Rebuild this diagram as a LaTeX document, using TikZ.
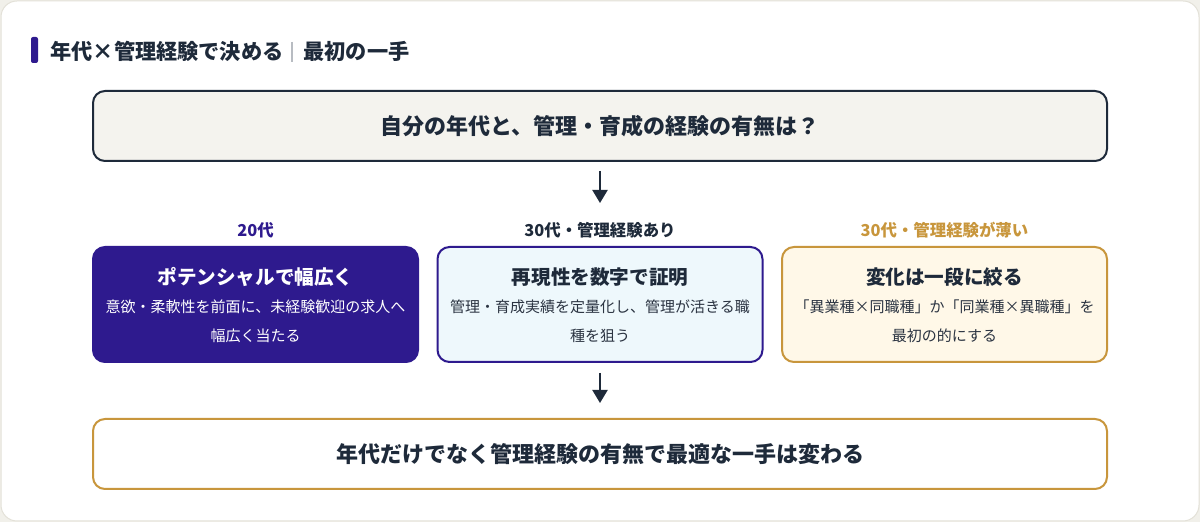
\documentclass[tikz,border=0pt]{standalone}
\usepackage{fontspec}
\setmainfont{Noto Sans CJK JP}
\usetikzlibrary{arrows.meta}
\definecolor{navy}{HTML}{1E2A3A}
\definecolor{purp}{HTML}{2E1A8E}
\definecolor{gold}{HTML}{C8963C}
\definecolor{topfill}{HTML}{F4F3EE}
\definecolor{bluefill}{HTML}{EEF8FC}
\definecolor{creamfill}{HTML}{FFF8E8}
\definecolor{pagebg}{HTML}{F1F0EA}
\definecolor{cardline}{HTML}{E3E1D8}
\definecolor{sepgray}{HTML}{B8BCC2}
\definecolor{bodytext}{HTML}{2B3442}
\begin{document}
\begin{tikzpicture}[x=0.5pt,y=-0.5pt,
  wide/.style={draw, line width=1pt, rounded corners=6pt, inner sep=0pt,
    minimum width=507pt, minimum height=35pt, text=navy,
    font=\fontsize{11pt}{13pt}\selectfont\bfseries},
  cbox/.style={draw, line width=1pt, rounded corners=6pt, inner sep=0pt,
    minimum width=162.5pt, minimum height=57.5pt},
  lbl/.style={inner sep=0pt, font=\fontsize{8.2pt}{10pt}\selectfont\bfseries},
  ctitle/.style={inner sep=0pt, font=\fontsize{9.8pt}{12pt}\selectfont\bfseries},
  cbody/.style={inner sep=0pt, align=center, font=\fontsize{7.5pt}{14.5pt}\selectfont},
  arr/.style={draw=navy, line width=1pt, -{Triangle[width=7.5pt,length=6.5pt]}},
  ttl/.style={inner sep=0pt, anchor=west, text=navy, font=\fontsize{10.6pt}{13pt}\selectfont\bfseries}
]
\useasboundingbox (0,0) rectangle (1200,522);
\fill[pagebg] (0,0) rectangle (1200,522);
\draw[cardline, fill=white, line width=0.5pt, rounded corners=8pt] (1,1) rectangle (1199,521);

% title
\fill[purp, rounded corners=1pt] (31,37) rectangle (38,63);
\node[ttl] (title1) at (50,51) {年代×管理経験で決める};
\draw[sepgray, line width=0.6pt] (292,42) -- (292,62);
\node[ttl] (title2) at (303,51) {最初の一手};

% top question
\node[wide, draw=navy, fill=topfill] (top) at (600,126) {自分の年代と、管理・育成の経験の有無は？};
\coordinate (a1e) at (600,203);
\draw[arr, shorten <=4.5pt] (top.south) -- (a1e);

% labels
\node[lbl, text=purp] (l1) at (255.5,230) {20代};
\node[lbl, text=navy] (l2) at (600,230) {30代・管理経験あり};
\node[lbl, text=gold] (l3) at (944.5,230) {30代・管理経験が薄い};

% boxes
\node[cbox, draw=purp, fill=purp] (b1) at (255.5,304.5) {};
\node[cbox, draw=purp, fill=bluefill] (b2) at (600,304.5) {};
\node[cbox, draw=gold, fill=creamfill] (b3) at (944.5,304.5) {};

\node[ctitle, text=white] (t1) at (255.5,277) {ポテンシャルで幅広く};
\node[cbody, text=white] (d1) at (255.5,321.5) {意欲・柔軟性を前面に、未経験歓迎の求人へ\\幅広く当たる};

\node[ctitle, text=navy] (t2) at (600,277) {再現性を数字で証明};
\node[cbody, text=bodytext] (d2) at (600,321.5) {管理・育成実績を定量化し、管理が活きる職\\種を狙う};

\node[ctitle, text=navy] (t3) at (944.5,277) {変化は一段に絞る};
\node[cbody, text=bodytext] (d3) at (944.5,321.5) {「異業種×同職種」か「同業種×異職種」を\\最初の的にする};

% bottom
\node[wide, draw=gold, fill=white] (bot) at (600,454) {年代だけでなく管理経験の有無で最適な一手は変わる};
\draw[arr, shorten <=5pt, shorten >=7.5pt] (b2.south) -- (bot.north);
\end{tikzpicture}
\end{document}
